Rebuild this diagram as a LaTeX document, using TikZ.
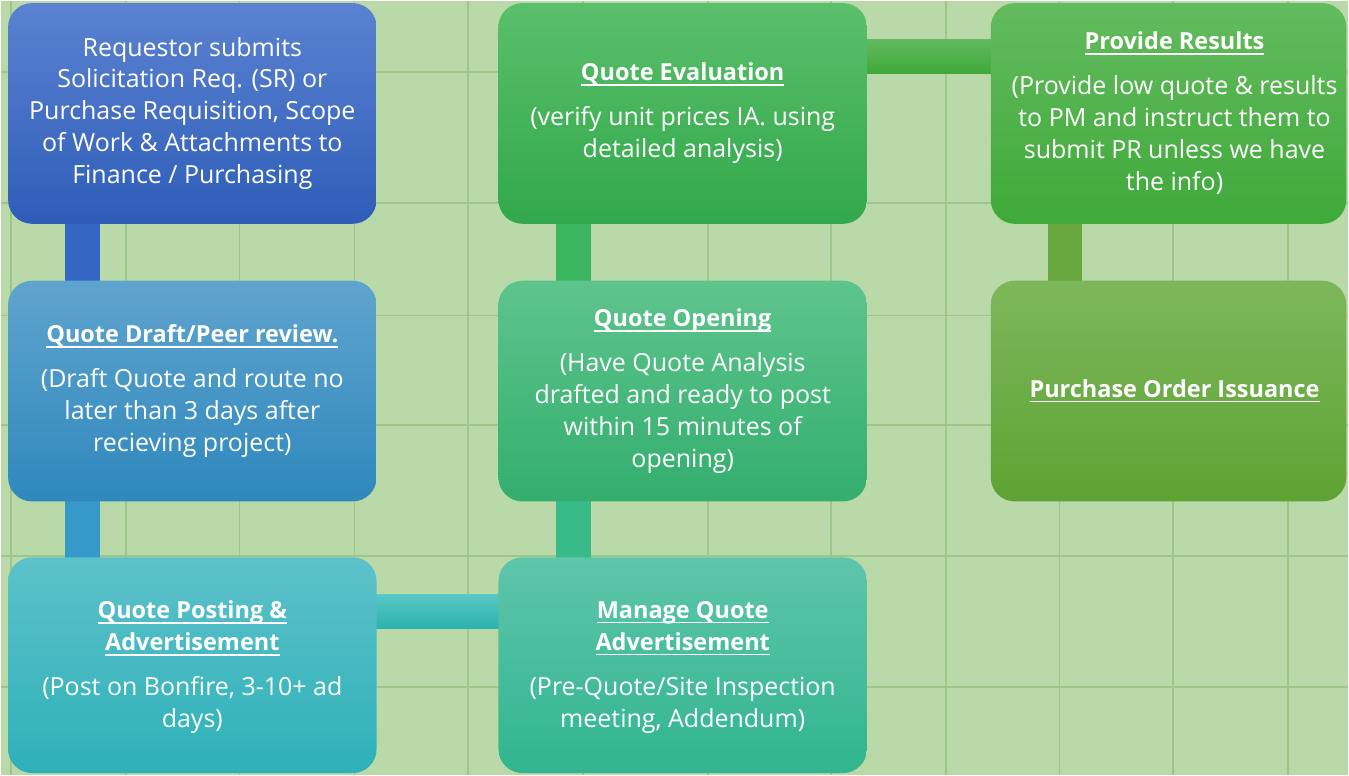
\documentclass[tikz,border=0pt]{standalone}
\usepackage{fontspec}
\setmainfont{Open Sans}
\usetikzlibrary{calc}

% page and grid
\definecolor{paper}{HTML}{B9D9A8}
\definecolor{gridgreen}{HTML}{9DC689}
% step boxes: top / bottom shades
\definecolor{aTop}{HTML}{5B82D1}\definecolor{aBot}{HTML}{2E5DB8}
\definecolor{bTop}{HTML}{5FA4CE}\definecolor{bBot}{HTML}{2F88BD}
\definecolor{cTop}{HTML}{5DC1C9}\definecolor{cBot}{HTML}{2DB1B9}
\definecolor{dTop}{HTML}{5BBF6B}\definecolor{dBot}{HTML}{31A84B}
\definecolor{eTop}{HTML}{5EC48D}\definecolor{eBot}{HTML}{33AE6E}
\definecolor{fTop}{HTML}{5EC5AB}\definecolor{fBot}{HTML}{31B58F}
\definecolor{gTop}{HTML}{63BB5E}\definecolor{gBot}{HTML}{3FA93A}
\definecolor{hTop}{HTML}{7DB75B}\definecolor{hBot}{HTML}{5EA333}
% links
\definecolor{linkA}{HTML}{3467C4}
\definecolor{linkB}{HTML}{3799C7}
\definecolor{linkD}{HTML}{3BB75F}
\definecolor{linkE}{HTML}{38BB89}
\definecolor{linkG}{HTML}{69A83E}
\definecolor{barTealTop}{HTML}{5AC8C5}\definecolor{barTealBot}{HTML}{2BB2AE}
\definecolor{barGreenTop}{HTML}{63BA5D}\definecolor{barGreenBot}{HTML}{3DA83A}

\newcommand\steptitle[1]{\setbox0\hbox{\fontsize{23.5}{32}\selectfont\bfseries #1}\rlap{\rule[-5pt]{\wd0}{1.7pt}}\box0}

\pgfdeclarelayer{backdrop}
\pgfdeclarelayer{links}
\pgfsetlayers{backdrop,links,main}

\begin{document}
\begin{tikzpicture}[x=1pt,y=-1pt,
  stepbox/.style={rounded corners=24pt, inner sep=0pt, anchor=north west, draw=none},
  wide/.style={minimum width=369pt},
  narrow/.style={minimum width=356pt},
  tall/.style={minimum height=221pt},
  steptext/.style={text=white, align=center, inner sep=0pt,
    font=\fontsize{25}{32}\selectfont},
  gridline/.style={draw=gridgreen, line width=1.8pt},
  link/.style={line width=35pt}]

\begin{pgfonlayer}{backdrop}
  \fill[paper] (0,0) rectangle (1349,775);
  \foreach \x in {10,125,239,354,468,583,708,831,946,1060,1174,1289}
    \draw[gridline] (\x,0) -- (\x,775);
  \foreach \y in {71,202,315,425,556,687}
    \draw[gridline] (0,\y) -- (1349,\y);
\end{pgfonlayer}
\useasboundingbox (0,0) rectangle (1349,775);

% left column
\node[stepbox, wide, tall, top color=aTop, bottom color=aBot] (sr) at (7,2) {};
\node[stepbox, wide, tall, top color=bTop, bottom color=bBot] (draft) at (7,280) {};
\node[stepbox, wide, minimum height=216pt, top color=cTop, bottom color=cBot] (post) at (7,557) {};
% middle column
\node[stepbox, wide, tall, top color=dTop, bottom color=dBot] (eval) at (498,2) {};
\node[stepbox, wide, tall, top color=eTop, bottom color=eBot] (open) at (498,280) {};
\node[stepbox, wide, minimum height=216pt, top color=fTop, bottom color=fBot] (manage) at (498,557) {};
% right column
\node[stepbox, narrow, tall, top color=gTop, bottom color=gBot] (results) at (991,2) {};
\node[stepbox, narrow, tall, top color=hTop, bottom color=hBot] (po) at (991,280) {};

% texts
\node[steptext] (tsr) at (sr.center) {Requestor submits\\Solicitation Req. (SR) or\\Purchase Requisition, Scope\\of Work \& Attachments to\\Finance / Purchasing};
\node[steptext] (tdraft) at (draft.center) {\steptitle{Quote Draft/Peer review.}\\[13pt](Draft Quote and route no\\later than 3 days after\\recieving project)};
\node[steptext] (tpost) at ($(post.center)+(0,2)$) {\steptitle{Quote Posting \&}\\\steptitle{Advertisement}\\[13pt](Post on Bonfire, 3-10+ ad\\days)};
\node[steptext] (teval) at (eval.center) {\steptitle{Quote Evaluation}\\[13pt](verify unit prices IA. using\\detailed analysis)};
\node[steptext] (topen) at (open.center) {\steptitle{Quote Opening}\\[13pt](Have Quote Analysis\\drafted and ready to post\\within 15 minutes of\\opening)};
\node[steptext] (tmanage) at ($(manage.center)+(0,2)$) {\steptitle{Manage Quote}\\\steptitle{Advertisement}\\[13pt](Pre-Quote/Site Inspection\\meeting, Addendum)};
\node[steptext] (tresults) at ($(results.center)+(6,0)$) {\steptitle{Provide Results}\\[13pt](Provide low quote \& results\\to PM and instruct them to\\submit PR unless we have\\the info)};
\node[steptext] (tpo) at ($(po.center)+(6,0)$) {\steptitle{Purchase Order Issuance}};

% connecting bars, tucked under the boxes
\begin{pgfonlayer}{links}
  \draw[link, linkA] ($(sr.south west)+(74.5,-10)$) -- ($(draft.north west)+(74.5,10)$);
  \draw[link, linkB] ($(draft.south west)+(74.5,-10)$) -- ($(post.north west)+(74.5,10)$);
  \draw[link, linkD] ($(eval.south west)+(75.5,-10)$) -- ($(open.north west)+(75.5,10)$);
  \draw[link, linkE] ($(open.south west)+(75.5,-10)$) -- ($(manage.north west)+(75.5,10)$);
  \draw[link, linkG] ($(results.south west)+(74.5,-10)$) -- ($(po.north west)+(74.5,10)$);
  \shade[top color=barTealTop, bottom color=barTealBot]
    ($(post.north east)+(-10,37)$) rectangle ($(manage.north west)+(10,71)$);
  \shade[top color=barGreenTop, bottom color=barGreenBot]
    ($(eval.north east)+(-10,37)$) rectangle ($(results.north west)+(10,71)$);
\end{pgfonlayer}
\end{tikzpicture}
\end{document}
